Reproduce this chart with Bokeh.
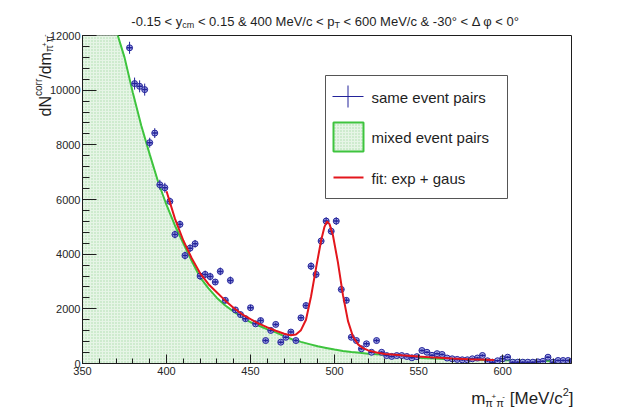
import math
from bokeh.plotting import figure
from bokeh.models import Range1d, FixedTicker
from bokeh.core.properties import value
from bokeh.embed import file_html
from bokeh.resources import INLINE

# ---------------- data ----------------
same_x = [378, 381, 384, 387, 390, 393, 396, 399, 402, 405,
          408, 411, 414, 417, 420, 423, 426, 429, 432, 435,
          438, 441, 444, 447, 450, 453, 456, 459, 462, 465,
          468, 471, 474, 477, 480, 483, 486, 489, 492, 495,
          498, 501, 504, 507, 510, 513, 516, 519, 522, 525,
          528, 531, 534, 537, 540, 543, 546, 549, 552, 555,
          558, 561, 564, 567, 570, 573, 576, 579, 582, 585,
          588, 591, 594, 597, 600, 603, 606, 609, 612, 615,
          618, 621, 624, 627, 630, 633, 636, 639]
same_y = [11550, 10240, 10140, 10020, 8080, 8430, 6540, 6430, 5930, 4720,
          5090, 3950, 4220, 4380, 3200, 3260, 3180, 2980, 3370, 2310,
          3040, 1960, 1790, 1640, 2040, 1450, 1570, 840, 1210, 1430,
          780, 960, 1150, 840, 1670, 2120, 3560, 3260, 4480, 5210,
          4840, 5210, 2710, 2310, 960, 840, 540, 720, 410, 840,
          410, 290, 260, 290, 290, 256, 209, 250, 475, 410,
          300, 360, 330, 200, 172, 150, 135, 135, 172, 200,
          293, 100, 48, 100, 172, 230, 48, 48, 48, 48,
          48, 60, 80, 230, 48, 110, 110, 110]
same_err = [220, 220, 220, 220, 180, 180, 180, 180, 140, 140,
            140, 140, 140, 140, 140, 140, 140, 100, 140, 100,
            140, 100, 100, 100, 100, 70, 100, 70, 70, 70,
            70, 70, 70, 70, 100, 100, 140, 140, 140, 140,
            140, 140, 100, 100, 70, 70, 45, 70, 45, 70,
            45, 45, 45, 45, 45, 45, 45, 45, 45, 45,
            45, 45, 45, 45, 45, 45, 45, 45, 45, 45,
            45, 45, 45, 45, 45, 45, 45, 45, 45, 45,
            45, 45, 45, 45, 45, 45, 45, 45]
bin_half = 1.5

mixed_x = [350, 355, 360, 365, 370, 375, 380, 385, 390, 395,
           400, 405, 410, 415, 420, 425, 430, 435, 440, 445,
           450, 455, 460, 465, 470, 475, 480, 485, 490, 495,
           500, 505, 510, 515, 520, 525, 530, 535, 540, 545,
           550, 555, 560, 565, 570, 575, 580, 585, 590, 595,
           600, 605, 610, 615, 620, 625, 630, 635, 640]
mixed_y = [16500, 15000, 13800, 12900, 12200, 11200, 9900, 8700, 7650, 6650,
           5800, 5050, 4400, 3750, 3150, 2750, 2400, 2120, 1900, 1700,
           1510, 1380, 1250, 1140, 1000, 880, 790, 710, 630, 570,
           510, 460, 420, 390, 360, 340, 320, 290, 260, 230,
           210, 195, 180, 165, 155, 148, 140, 135, 130, 125,
           120, 115, 110, 105, 100, 98, 95, 92, 90]

fit_x = [400, 405, 410, 415, 420, 425, 430, 435, 440, 445,
         450, 455, 460, 465, 470, 474, 477, 480, 483, 486,
         489, 492, 494, 495.5, 497, 499, 502, 505, 508, 511,
         514, 517, 520, 525, 530, 540, 550, 560, 570, 580,
         590, 595]
fit_y = [6300, 5300, 4500, 3850, 3300, 2900, 2600, 2300, 2030, 1800,
         1620, 1460, 1320, 1200, 1090, 1030, 1060, 1220, 1600, 2450,
         3500, 4500, 5000, 5200, 5100, 4700, 3700, 2500, 1550, 980,
         700, 560, 480, 400, 350, 300, 255, 215, 185, 160,
         140, 130]

x_major = [350, 400, 450, 500, 550, 600]
x_minor = [350, 360, 370, 380, 390, 400, 410, 420, 430, 440, 450, 460, 470,
           480, 490, 500, 510, 520, 530, 540, 550, 560, 570, 580, 590, 600,
           610, 620, 630, 640]
y_major = [0, 2000, 4000, 6000, 8000, 10000, 12000]
y_minor = [0, 400, 800, 1200, 1600, 2000, 2400, 2800, 3200, 3600, 4000, 4400,
           4800, 5200, 5600, 6000, 6400, 6800, 7200, 7600, 8000, 8400, 8800,
           9200, 9600, 10000, 10400, 10800, 11200, 11600, 12000]

legend_labels = ["same event pairs", "mixed event pairs", "fit: exp + gaus"]

# ---------------- layout ----------------
W, H = 627, 409
FL, FR, FT, FB = 82, 571, 35, 363
X0, X1 = 350, 641
Y0, Y1 = 0, 12000
FONT = "Liberation Sans"

BLUE = "#23239a"
GREEN = "#3ec43e"
RED = "#e3161c"
FILL = "#e6f5e6"
HATCH = "#a9dca9"
INK = "#1e1e1e"


def X(px):
    return X0 + (px - FL) * (X1 - X0) / (FR - FL)


def Y(py):
    return Y0 + (FB - py) * (Y1 - Y0) / (FB - FT)


CW = {' ': 278, '-': 333, '.': 278, '<': 584, '&': 667, 'M': 833, 'e': 556,
      'V': 667, '/': 278, 'c': 500, 'y': 500, 'm': 833, 'p': 556, 'T': 611,
      '°': 400, 'Δ': 668, 'φ': 650, 'π': 560, '+': 584, '[': 278, ']': 278,
      'N': 722, 'd': 556, 'o': 556, 'r': 333}


def tw(s, size):
    return sum(CW.get(ch, 556) for ch in s) * size / 1000.0


p = figure(width=W, height=H, output_backend="svg", toolbar_location=None,
           x_range=Range1d(X0, X1), y_range=Range1d(Y0, Y1),
           min_border_left=FL, min_border_right=W - FR,
           min_border_top=FT, min_border_bottom=H - FB)
p.background_fill_color = "white"
p.border_fill_color = "white"
p.outline_line_color = INK
p.outline_line_width = 1
p.xgrid.visible = False
p.ygrid.visible = False

p.xaxis.ticker = FixedTicker(ticks=x_major, minor_ticks=x_minor)
p.yaxis.ticker = FixedTicker(ticks=y_major, minor_ticks=y_minor)
for ax in (p.xaxis[0], p.yaxis[0]):
    ax.major_tick_out = 0
    ax.minor_tick_out = 0
    ax.axis_line_color = INK
    ax.major_tick_line_color = INK
    ax.minor_tick_line_color = INK
    ax.major_label_text_font = FONT
    ax.major_label_text_font_size = "11px"
    ax.major_label_text_color = "#262626"
p.xaxis.major_tick_in = 9
p.xaxis.minor_tick_in = 5
p.yaxis.major_tick_in = 14
p.yaxis.minor_tick_in = 7
p.xaxis.major_label_standoff = 3
p.yaxis.major_label_standoff = 2

# mixed event histogram (filled)
p.varea(x=mixed_x, y1=[0] * len(mixed_x), y2=mixed_y, fill_color=FILL,
        hatch_pattern="dot", hatch_color=HATCH, hatch_scale=3, hatch_weight=1)
p.line(mixed_x, mixed_y, line_color=GREEN, line_width=2)

# same event points
p.scatter(same_x, same_y, marker="circle", size=6, line_color=BLUE,
          fill_color="#a4a8e6", line_width=1)
p.segment(x0=[x - bin_half for x in same_x], y0=same_y,
          x1=[x + bin_half for x in same_x], y1=same_y,
          line_color=BLUE, line_width=1.5)
p.segment(x0=same_x, y0=[y - e for y, e in zip(same_y, same_err)],
          x1=same_x, y1=[y + e for y, e in zip(same_y, same_err)],
          line_color=BLUE, line_width=1)

# fit
p.line(fit_x, fit_y, line_color=RED, line_width=2)

# legend box
p.quad(left=[X(325)], right=[X(507)], top=[Y(75)], bottom=[Y(198)],
       fill_color="white", line_color="#555555", line_width=1)
p.segment(x0=[X(332)], y0=[Y(96)], x1=[X(363)], y1=[Y(96)], line_color=BLUE, line_width=1)
p.segment(x0=[X(347.5)], y0=[Y(85)], x1=[X(347.5)], y1=[Y(107)], line_color=BLUE, line_width=1)
p.quad(left=[X(333)], right=[X(363)], top=[Y(122)], bottom=[Y(151)],
       fill_color=FILL, hatch_pattern="dot", hatch_color=HATCH, hatch_scale=3,
       hatch_weight=1, line_color=GREEN, line_width=2)
p.segment(x0=[X(333)], y0=[Y(177)], x1=[X(363)], y1=[Y(177)], line_color=RED, line_width=2)
p.text(x=[X(371)] * 3, y=[Y(97), Y(137), Y(178)], text=legend_labels,
       text_baseline="middle", text_align="left", text_font=value(FONT),
       text_font_size="15px", text_color=INK)

# ---------------- titles (text pieces outside the frame) ----------------
tx, ty, tt, ts, ta = [], [], [], [], []


def run(pieces, start, base, vertical=False):
    """Lay out text pieces one after another; returns nothing."""
    pos = start
    for txt, size, shift in pieces:
        lead = len(txt) - len(txt.lstrip(" "))
        core = txt.strip(" ")
        pos_core = pos + (tw(" " * lead, size) if not vertical else -tw(" " * lead, size))
        if vertical:
            tx.append(X(base + shift))
            ty.append(Y(pos_core))
            ta.append(math.pi / 2)
            pos -= tw(txt, size)
        else:
            tx.append(X(pos_core))
            ty.append(Y(base + shift))
            ta.append(0.0)
            pos += tw(txt, size)
        tt.append(core)
        ts.append(f"{size}px")


title_pieces = [("-0.15 < y", 13, 0), ("cm", 9, 3),
                (" < 0.15 & 400 MeV/c < p", 13, 0), ("T", 9, 3),
                (" < 600 MeV/c & -30° < Δ φ < 0°", 13, 0)]
total = sum(tw(t, s) for t, s, _ in title_pieces)
run(title_pieces, 325 - total / 2, 21)

xt_pieces = [("m", 17, 0), ("π", 11, 4), ("+", 8, -2), ("π", 11, 4), ("-", 8, -2),
             (" [MeV/c", 17, 0), ("2", 11, -7), ("]", 17, 0)]
total = sum(tw(t, s) for t, s, _ in xt_pieces)
run(xt_pieces, 573 - total, 398)

yt_pieces = [("dN", 16, 0), ("corr", 10, -7), ("/dm", 16, 0), ("π", 10, 4),
             ("+", 7, -1), ("π", 10, 4), ("-", 7, -1)]
total = sum(tw(t, s) for t, s, _ in yt_pieces)
run(yt_pieces, 34 + total, 45, vertical=True)

p.text(x=tx, y=ty, text=tt, text_font_size=ts, angle=ta,
       text_font=value(FONT), text_color=INK, text_align="left",
       text_baseline="alphabetic", level="overlay")

open("out.html", "w").write(file_html(p, INLINE))
